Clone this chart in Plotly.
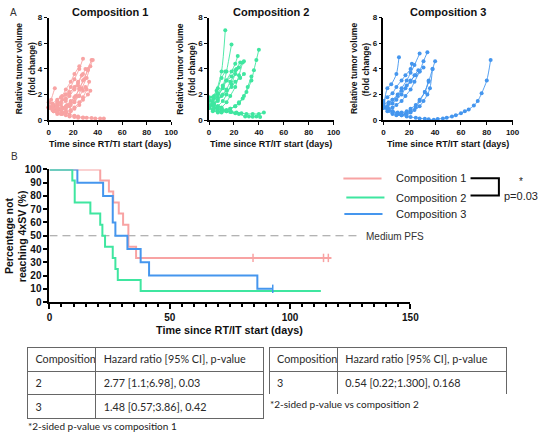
import plotly.graph_objects as go

W, H = 548, 438
def fx(p): return p / W
def fy(p): return 1 - p / H

PINK = "#f8a3a3"
GREEN = "#3fe6a0"
BLUE = "#4596ee"
AX = "Liberation Sans"
TB = "Lato"

# ---------------- Panel A data (spider plots) ----------------
c1_days = [
    [0, 4, 7, 11, 14, 18, 21, 25, 28],
    [0, 4, 8, 11, 15, 18, 22, 25, 29, 32, 35],
    [0, 3, 7, 10, 14, 17, 21, 24, 27, 31, 34, 36],
    [0, 4, 7, 11, 14, 18, 21, 25],
    [0, 3, 7, 10, 14, 17, 21, 24, 28, 30],
    [0, 4, 7, 11, 14, 18, 21, 25, 28, 32],
    [0, 3, 7, 10, 14, 17, 21, 24, 27],
    [0, 4, 7, 11, 14, 18, 21, 25, 28, 31, 33],
    [0, 3, 7, 10, 14, 17, 21, 24],
    [0, 4, 7, 11, 14, 18, 21, 25, 28, 30],
    [0, 4, 7, 11, 14, 18, 21, 25, 28, 32, 34],
    [0, 2, 5],
    [0, 3, 7, 10, 14, 17, 21, 24, 28, 31, 35, 38, 42, 45],
    [0, 3, 7, 10, 14, 17, 21, 24, 28],
]
c1_vals = [
    [1.0, 1.1, 1.3, 1.6, 2.0, 2.6, 3.2, 4.0, 4.8],
    [1.0, 0.9, 0.9, 1.0, 1.2, 1.5, 1.9, 2.5, 3.2, 4.0, 4.7],
    [1.0, 0.8, 0.7, 0.8, 0.9, 1.1, 1.4, 1.9, 2.5, 3.3, 4.2, 4.7],
    [1.0, 1.2, 1.5, 1.9, 2.4, 3.0, 3.6, 4.2],
    [1.0, 0.9, 1.0, 1.2, 1.5, 1.9, 2.4, 2.9, 3.6, 4.0],
    [1.0, 0.8, 0.8, 0.9, 1.1, 1.4, 1.8, 2.4, 3.1, 3.9],
    [1.0, 1.1, 1.2, 1.4, 1.7, 2.1, 2.6, 3.0, 3.5],
    [1.0, 0.7, 0.6, 0.6, 0.7, 0.8, 1.0, 1.4, 1.8, 2.4, 3.0],
    [1.0, 1.3, 1.6, 1.8, 2.0, 2.2, 2.5, 2.7],
    [1.0, 0.9, 0.8, 0.9, 1.0, 1.2, 1.5, 1.9, 2.3, 2.6],
    [1.0, 0.7, 0.5, 0.5, 0.6, 0.7, 0.9, 1.2, 1.6, 2.0, 2.3],
    [1.0, 1.6, 2.5],
    [1.4, 1.2, 1.0, 0.8, 0.6, 0.45, 0.35, 0.3, 0.22, 0.2, 0.18, 0.15, 0.15, 0.15],
    [1.0, 0.9, 0.7, 0.5, 0.4, 0.3, 0.25, 0.2, 0.2],
]

c2_days = [
    [0, 3, 6, 10, 13],
    [0, 4, 7, 11, 14, 18],
    [0, 3, 7, 10, 14, 17, 21, 24, 27, 30, 34, 36, 38, 40],
    [0, 4, 7, 11, 14, 18, 21, 23],
    [0, 3, 7, 10, 14, 17, 21, 24, 28],
    [0, 4, 7, 11, 14, 18, 21, 25],
    [0, 3, 7, 10, 13],
    [0, 4, 7, 11, 14, 18, 22],
    [0, 3, 7, 10, 14, 17, 21, 24, 27],
    [0, 3, 7, 10, 14, 17, 21, 24, 28, 31, 34],
    [0, 4, 7, 11, 14, 18, 21, 25, 28],
    [0, 3, 7, 10, 14, 17, 21, 24, 29, 32, 35, 38, 41],
    [0, 4, 7, 11, 14, 18, 22, 26, 30, 35, 40, 44],
]
c2_vals = [
    [1.0, 1.5, 2.3, 3.8, 7.0],
    [1.0, 1.3, 1.8, 2.6, 3.8, 5.9],
    [1.0, 0.8, 0.7, 0.7, 0.8, 0.9, 1.1, 1.3, 1.7, 2.2, 3.1, 3.9, 4.7, 5.5],
    [1.5, 1.7, 2.0, 2.5, 3.1, 3.8, 4.4, 5.0],
    [1.0, 1.2, 1.5, 1.9, 2.4, 3.0, 3.6, 4.1, 4.6],
    [1.8, 1.9, 2.1, 2.7, 3.1, 3.4, 3.9, 4.5],
    [1.0, 1.8, 2.5, 3.3, 3.8],
    [1.0, 0.9, 1.1, 1.5, 2.0, 2.8, 4.0],
    [1.0, 0.7, 0.8, 1.0, 1.4, 1.9, 2.6, 3.5, 4.5],
    [1.0, 0.8, 0.6, 0.6, 0.7, 0.9, 1.1, 1.4, 1.9, 2.6, 3.4],
    [1.0, 1.2, 1.6, 2.0, 2.3, 2.6, 3.0, 3.3, 3.6],
    [1.6, 1.3, 1.1, 0.9, 0.75, 0.65, 0.55, 0.5, 0.3, 0.3, 0.28, 0.3, 0.25],
    [1.2, 1.0, 0.9, 0.8, 0.7, 0.65, 0.6, 0.55, 0.5, 0.5, 0.5, 0.6],
]

c3_days = [
    [0, 3, 6, 10, 12],
    [0, 4, 7, 11, 14, 18, 21, 24, 28],
    [0, 3, 7, 10, 14, 17, 21, 24, 28, 31, 34],
    [0, 3, 7, 10, 14, 17, 21, 22],
    [0, 4, 7, 11, 14, 18, 21, 25, 28, 32, 35, 38, 40],
    [0, 4, 7, 11, 14, 18, 21, 25, 28, 31],
    [0, 3, 7, 10, 14, 17, 21, 24, 28, 31, 34, 36, 38],
    [0, 4, 7, 11, 14, 18, 21, 25, 28, 32, 35],
    [0, 4, 7, 11, 14, 18, 21, 25, 28, 32, 35, 39, 42, 46, 49, 53, 56, 60, 63, 66, 70, 73, 76, 80, 83],
    [0, 3, 7, 10, 14, 17, 21, 24, 27],
]
c3_vals = [
    [1.0, 2.5, 2.8, 3.6, 4.9],
    [1.0, 1.3, 1.6, 2.0, 2.5, 3.1, 3.7, 4.3, 5.2],
    [1.0, 0.9, 1.0, 1.2, 1.5, 1.9, 2.4, 3.0, 3.8, 4.6, 5.3],
    [1.5, 1.8, 2.1, 2.6, 3.1, 3.5, 4.0, 4.4],
    [1.0, 0.8, 0.7, 0.6, 0.6, 0.7, 0.9, 1.2, 1.6, 2.2, 3.0, 4.0, 4.6],
    [1.3, 1.4, 1.6, 1.9, 2.3, 2.7, 3.1, 3.5, 3.8, 4.1],
    [1.0, 0.7, 0.5, 0.4, 0.4, 0.5, 0.6, 0.8, 1.1, 1.5, 2.0, 2.5, 4.0],
    [1.0, 0.8, 0.6, 0.5, 0.45, 0.5, 0.7, 1.0, 1.5, 2.2, 3.1],
    [1.2, 0.9, 0.7, 0.55, 0.4, 0.3, 0.25, 0.2, 0.15, 0.12, 0.08, 0.05, 0.1, 0.15, 0.2, 0.3, 0.4, 0.55, 0.7, 0.85, 1.15, 1.5, 2.1, 3.1, 4.7],
    [1.0, 1.1, 1.3, 1.6, 2.0, 2.5, 3.0, 3.5, 3.9],
]

panel_a_titles = ["Composition 1", "Composition 2", "Composition 3"]
panel_a_xtitles = ["Time since RT/TI start (days)", "Time since RT/IT start (days)", "Time since RT/IT start (days)"]

# ---------------- Panel B data (Kaplan-Meier) ----------------
km1_t = [0, 21.1, 24.7, 26.5, 28.8, 30.6, 32.8, 36.0, 117.2]
km1_s = [100, 91.7, 83.3, 75, 66.7, 58.3, 41.7, 33.3, 33.3]
km1_ct = [84.6, 113.9, 115.9]
km1_cs = [33.3, 33.3, 33.3]

km2_t = [0, 9.5, 10.5, 17.0, 21.1, 22.0, 23.1, 26.3, 27.4, 28.4, 37.9, 112.8]
km2_s = [100, 91.7, 75, 66.7, 58.3, 50, 41.7, 33.3, 25, 16.7, 8.3, 8.3]

km3_t = [0, 11.6, 22.3, 26.3, 27.4, 32.4, 37.9, 41.4, 86.4, 92.8]
km3_s = [100, 90, 80, 60, 50, 40, 30, 20, 10, 10]
km3_ct = [92.8]
km3_cs = [10]

median_t = [0, 128]
median_s = [50, 50]

legend_names = ["Composition 1", "Composition 2", "Composition 3"]

# ---------------- Tables ----------------
tab_header = ["Composition", "Hazard ratio [95% CI], p-value"]
tab1_col1 = ["2", "3"]
tab1_col2 = ["2.77 [1.1;6.98], 0.03", "1.48 [0.57;3.86], 0.42"]
tab2_col1 = ["3"]
tab2_col2 = ["0.54 [0.22;1.300], 0.168"]

fig = go.Figure()

# Panel A traces
series = [(c1_days, c1_vals, PINK, "x", "y"),
          (c2_days, c2_vals, GREEN, "x2", "y2"),
          (c3_days, c3_vals, BLUE, "x3", "y3")]
for days, vals, col, xa, ya in series:
    for d, v in zip(days, vals):
        fig.add_trace(go.Scatter(
            x=d, y=v, mode="lines+markers", xaxis=xa, yaxis=ya,
            line=dict(color=col, width=0.9, shape="spline", smoothing=0.8),
            marker=dict(color=col, size=4), cliponaxis=False, showlegend=False))

# Panel B traces
fig.add_trace(go.Scatter(x=median_t, y=median_s, mode="lines", xaxis="x4", yaxis="y4",
                         line=dict(color="#9a9a9a", width=1.2, dash="8px,5px"), showlegend=False))
for t, s, col in [(km1_t, km1_s, PINK), (km3_t, km3_s, BLUE), (km2_t, km2_s, GREEN)]:
    fig.add_trace(go.Scatter(x=t, y=s, mode="lines", xaxis="x4", yaxis="y4",
                             line=dict(color=col, width=2, shape="hv"), cliponaxis=False,
                             showlegend=False))
for t, s, col in [(km1_ct, km1_cs, PINK), (km3_ct, km3_cs, BLUE)]:
    fig.add_trace(go.Scatter(x=t, y=s, mode="markers", xaxis="x4", yaxis="y4",
                             marker=dict(symbol="line-ns", size=6, line=dict(color=col, width=1.5)),
                             cliponaxis=False, showlegend=False))

# Tables
tfont = dict(family=TB, size=10.8, color="#2a2a2a")
fig.add_trace(go.Table(
    domain=dict(x=[fx(25), fx(267)], y=[fy(424), fy(350)]),
    columnwidth=[70, 172],
    header=dict(values=tab_header, height=24, align="left", fill_color="white",
                line=dict(color="#666", width=1), font=tfont),
    cells=dict(values=[tab1_col1, tab1_col2], height=23.5, align="left", fill_color="white",
               line=dict(color="#666", width=1), font=tfont)))
fig.add_trace(go.Table(
    domain=dict(x=[fx(272), fx(515)], y=[fy(399), fy(350)]),
    columnwidth=[70, 173],
    header=dict(values=tab_header, height=24, align="left", fill_color="white",
                line=dict(color="#666", width=1), font=tfont),
    cells=dict(values=[tab2_col1, tab2_col2], height=23.5, align="left", fill_color="white",
               line=dict(color="#666", width=1), font=tfont)))

# Axes
def axis_common(**kw):
    d = dict(showgrid=False, zeroline=False, showline=True, linecolor="black", linewidth=1.6,
             ticks="outside", ticklen=3, tickwidth=1.4, tickcolor="black",
             tickfont=dict(family=AX, size=8, color="#111", weight="bold"))
    d.update(kw)
    return d

a_dom = [(46.7, 172), (210.7, 338), (389, 521)]
ytop, ybot = 12.8, 118
for i, (l, r) in enumerate(a_dom):
    sfx = "" if i == 0 else str(i + 1)
    fig.layout["xaxis" + sfx] = axis_common(domain=[fx(l), fx(r)], range=[0, 100], dtick=20,
                                            anchor="y" + sfx)
    fig.layout["yaxis" + sfx] = axis_common(domain=[fy(ybot), fy(ytop)], range=[0, 8], dtick=2,
                                            anchor="x" + sfx)

fig.layout["xaxis4"] = axis_common(domain=[fx(47.5), fx(416.5)], range=[0, 150], dtick=50,
                                   anchor="y4", ticklen=5, linewidth=2, tickwidth=1.8,
                                   tickfont=dict(family=AX, size=10, color="#111", weight="bold"),
                                   minor=dict(dtick=5, ticks="outside", ticklen=3, tickwidth=1.5,
                                              tickcolor="black"))
fig.layout["yaxis4"] = axis_common(domain=[fy(304), fy(168.3)], range=[0, 100], dtick=10,
                                   anchor="x4", ticklen=4, linewidth=2, tickwidth=1.8,
                                   tickfont=dict(family=AX, size=10, color="#111", weight="bold"))

ann = []
def A(text, x, y, size, xanchor="center", angle=0, family=AX, color="#111", bold=False):
    ann.append(dict(text=("<b>%s</b>" % text) if bold else text, x=fx(x), y=fy(y),
                    xref="paper", yref="paper", showarrow=False, xanchor=xanchor,
                    yanchor="middle", textangle=angle,
                    font=dict(family=family, size=size, color=color)))

A("A", 5, 8, 10, xanchor="left", color="#333")
A("B", 6, 155, 10, xanchor="left", color="#333")
for i, (l, r) in enumerate(a_dom):
    cx = (l + r) / 2
    A(panel_a_titles[i], cx, 7, 11, bold=True)
    A(panel_a_xtitles[i], cx, 142, 9, bold=True)
    A("Relative tumor volume", l - 30, (ytop + ybot) / 2, 8.5, angle=-90, bold=True)
    A("(fold change)", l - 17.5, (ytop + ybot) / 2, 8.5, angle=-90, bold=True)

A("Percentage not", 6, 236.5, 10.5, angle=-90, bold=True)
A("reaching 4xSV (%)", 19.5, 236.5, 10.5, angle=-90, bold=True)
A("Time since RT/IT start (days)", 232, 333, 10.8, bold=True)
A("Medium PFS", 369, 236.5, 10, xanchor="left", color="#333")

leg_y = [177.5, 197, 214]
for name, yy in zip(legend_names, leg_y):
    A(name, 400, yy, 11, xanchor="left", color="#222")
A("*", 530, 181, 10, color="#222")
A("p=0.03", 549.5, 195, 11, xanchor="right", color="#222")

A("*2-sided p-value vs composition 1", 24, 431, 10, xanchor="left", family=TB, color="#222")
A("*2-sided p-value vs composition 2", 271, 408, 10, xanchor="left", family=TB, color="#222")

shapes = []
for col, yy, (x0, x1) in zip([PINK, GREEN, BLUE], leg_y, [(348, 387), (351, 390), (349, 388)]):
    shapes.append(dict(type="line", xref="paper", yref="paper", x0=fx(x0), x1=fx(x1),
                       y0=fy(yy), y1=fy(yy), line=dict(color=col, width=2)))
shapes.append(dict(type="path", xref="paper", yref="paper",
                   path="M %f %f L %f %f L %f %f L %f %f" % (fx(478), fy(177.3), fx(507), fy(177.3),
                                                             fx(507), fy(195), fx(478), fy(195)),
                   line=dict(color="black", width=2)))

fig.update_layout(width=W, height=H, margin=dict(l=0, r=0, t=0, b=0),
                  paper_bgcolor="white", plot_bgcolor="white",
                  annotations=ann, shapes=shapes, showlegend=False)

fig.write_html("out.html")
